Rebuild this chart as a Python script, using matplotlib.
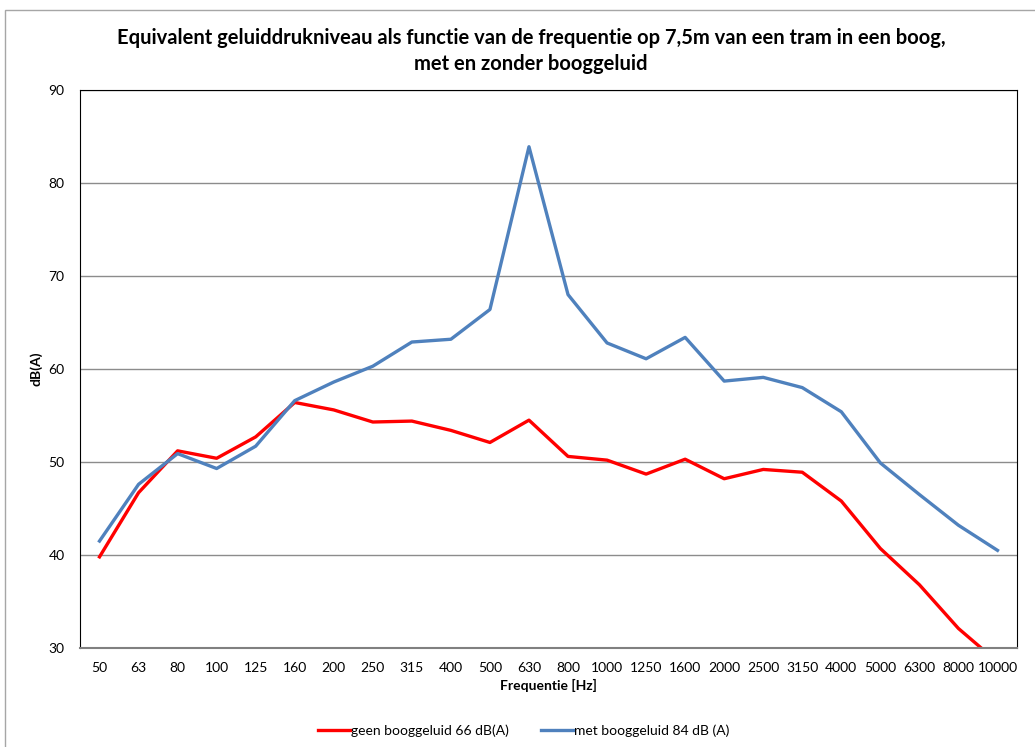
import numpy as np
import matplotlib.pyplot as plt
from matplotlib.patches import Rectangle

plt.rcParams['font.family'] = ['Lato', 'DejaVu Sans']

# Data
freqs = ['50', '63', '80', '100', '125', '160', '200', '250', '315', '400', '500',
         '630', '800', '1000', '1250', '1600', '2000', '2500', '3150', '4000',
         '5000', '6300', '8000', '10000']
geen = [39.8, 46.7, 51.2, 50.4, 52.7, 56.4, 55.6, 54.3, 54.4, 53.4, 52.1,
        54.5, 50.6, 50.2, 48.7, 50.3, 48.2, 49.2, 48.9, 45.8,
        40.7, 36.8, 32.1, 28.5]
met = [41.5, 47.6, 50.9, 49.3, 51.7, 56.6, 58.6, 60.3, 62.9, 63.2, 66.4,
       83.9, 68.0, 62.8, 61.1, 63.4, 58.7, 59.1, 58.0, 55.4,
       49.9, 46.5, 43.2, 40.5]

title = ('Equivalent geluiddrukniveau als functie van de frequentie op 7,5m van een tram in een boog,\n'
         'met en zonder booggeluid')

fig = plt.figure(figsize=(10.35, 7.47), dpi=100)
ax = fig.add_axes([80/1035, 1 - 648/747, (1017-80)/1035, (648-90)/747])

# Outer chart border
fig.patches.append(Rectangle((5/1035, -0.01), 1.02, 1 - 10/747 + 0.01,
                             transform=fig.transFigure, fill=False,
                             edgecolor='#a6a6a6', linewidth=1.0))

x = np.arange(len(freqs))
ax.plot(x, geen, color='#ff0000', linewidth=2.4, label='geen booggeluid 66 dB(A)')
ax.plot(x, met, color='#4f81bd', linewidth=2.4, label='met booggeluid 84 dB (A)')

ax.set_xlim(-0.5, len(freqs) - 0.5)
ax.set_ylim(30, 90)
ax.set_yticks(np.arange(30, 91, 10))
ax.set_xticks(x)
ax.set_xticklabels(freqs)
ax.tick_params(axis='x', length=0, pad=10, labelsize=10)
ax.tick_params(axis='y', length=0, pad=11, labelsize=10)
ax.grid(axis='y', color='#8c8c8c', linewidth=1.0)
ax.set_axisbelow(True)

ax.spines['left'].set_color('black')
ax.spines['top'].set_color('black')
ax.spines['right'].set_color('black')
ax.spines['bottom'].set_color('#808080')
ax.spines['bottom'].set_linewidth(1.5)

ax.set_xlabel('Frequentie [Hz]', fontweight='bold', fontsize=10, labelpad=4)
ax.set_ylabel('dB(A)', fontweight='bold', fontsize=10)
ax.yaxis.set_label_coords(-0.040, 0.5)

fig.text(0.513, 1 - 51/747, title, ha='center', va='center', fontsize=14.5,
         fontweight='bold', linespacing=1.35)

fig.legend(loc='center', bbox_to_anchor=(0.506, 1 - 731/747), ncol=2, frameon=False,
           fontsize=10, handlelength=2.3, handletextpad=0.1, columnspacing=2.3)

fig.savefig('out.png', dpi=100)
